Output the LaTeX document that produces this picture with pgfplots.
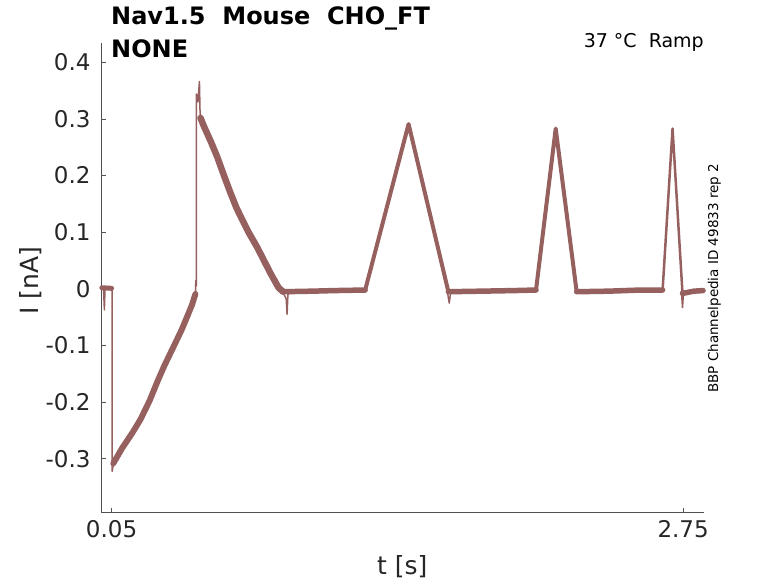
\documentclass[border=0pt]{standalone}
\usepackage{fontspec}
\setmainfont{DejaVu Sans}
\usepackage{pgfplots}
\pgfplotsset{compat=1.18}
\definecolor{trace}{RGB}{150,96,95}
\definecolor{txt}{RGB}{38,38,38}
\definecolor{axgray}{RGB}{80,80,80}
\begin{document}
\begin{tikzpicture}
\path[use as bounding box] (0,0) rectangle (778pt,583pt);
\begin{axis}[
  at={(101pt,70.3pt)}, anchor=south west,
  scale only axis, width=603.3pt, height=469.7pt,
  xmin=0, xmax=2.85, ymin=-0.395, ymax=0.434,
  axis x line*=bottom, axis y line*=left,
  axis line style={draw=axgray, line width=0.8pt},
  tick align=inside, major tick length=5pt,
  tick style={draw=axgray, line width=0.8pt},
  xtick={0.05,2.75}, xticklabels={0.05,2.75},
  ytick={-0.3,-0.2,-0.1,0,0.1,0.2,0.3,0.4},
  yticklabels={-0.3,-0.2,-0.1,0,0.1,0.2,0.3,0.4},
  tick label style={font=\fontsize{23}{27}\selectfont, text=txt},
  yticklabel shift=7pt, xticklabel shift=4.6pt,
  unbounded coords=jump, clip=false,
  every axis plot/.append style={color=trace, line join=round, line cap=round},
]
% noisy bands (thick)
\addplot[line width=5pt] coordinates {(0.004,0.002) (0.050,0.001)};
\addplot[line width=6pt] coordinates {
 (0.058,-0.308) (0.10,-0.281) (0.15,-0.253) (0.187,-0.230) (0.23,-0.197)
 (0.266,-0.164) (0.30,-0.135) (0.344,-0.101) (0.38,-0.073) (0.407,-0.049)
 (0.43,-0.028) (0.446,-0.009)};
\addplot[line width=6.5pt] coordinates {
 (0.470,0.302) (0.485,0.288) (0.52,0.259) (0.549,0.233) (0.58,0.201)
 (0.611,0.170) (0.64,0.143) (0.674,0.117) (0.70,0.098) (0.737,0.074)
 (0.77,0.050) (0.80,0.028) (0.839,0.002) (0.86,-0.005)};
\addplot[line width=5.5pt] coordinates {
 (0.86,-0.005) (1.0,-0.004) (1.1,-0.003) (1.248,-0.002)
 (1.5,nan)
 (1.641,-0.005) (1.8,-0.004) (1.95,-0.003) (2.055,-0.002)
 (2.1,nan)
 (2.247,-0.005) (2.4,-0.004) (2.55,-0.002) (2.653,-0.002)
 (2.7,nan)
 (2.747,-0.008) (2.80,-0.004) (2.844,-0.003)};
\addplot[line width=4pt] coordinates {
 (1.248,-0.002) (1.453,0.291) (1.641,-0.005)
 (1.7,nan)
 (2.055,-0.002) (2.148,0.283) (2.247,-0.005)};
\addplot[line width=2.5pt] coordinates {(2.653,-0.002) (2.700,0.283) (2.747,-0.008)};
% centre trace with steps and spikes (thin)
\addplot[line width=1.5pt] coordinates {
 (0.003,0.003) (0.012,0.000) (0.016,-0.037) (0.019,0.002) (0.040,0.004)
 (0.050,0.002) (0.052,0.001) (0.053,-0.322) (0.058,-0.310)
 (0.10,-0.281) (0.15,-0.253) (0.187,-0.230) (0.23,-0.197)
 (0.266,-0.164) (0.30,-0.135) (0.344,-0.101) (0.38,-0.073) (0.407,-0.049)
 (0.43,-0.028)
 (0.446,-0.008) (0.448,0.015) (0.450,0.005) (0.451,0.344) (0.458,0.330)
 (0.465,0.366) (0.468,0.310) (0.475,0.300)};
\addplot[line width=1.5pt] coordinates {
 (0.86,-0.006) (0.875,-0.018) (0.879,-0.045) (0.883,-0.010) (0.90,-0.004)};
\addplot[line width=1.5pt] coordinates {
 (1.636,-0.004) (1.645,-0.025) (1.652,-0.006)};
\addplot[line width=1.5pt] coordinates {
 (2.742,-0.004) (2.747,-0.033) (2.752,-0.006)};
\end{axis}
\node[anchor=base west, inner sep=0pt, font=\bfseries\fontsize{24}{28}\selectfont] at (111pt,558pt) {Nav1.5\ \ Mouse\ \ CHO\_FT};
\node[anchor=base west, inner sep=0pt, font=\bfseries\fontsize{24}{28}\selectfont] at (111pt,525.7pt) {NONE};
\node[anchor=base east, inner sep=0pt, font=\fontsize{19}{23}\selectfont] at (704pt,535.7pt) {37 °C\ \ Ramp};
\node[rotate=90, anchor=base, inner sep=0pt, font=\fontsize{13.5}{16}\selectfont] at (718pt,304.7pt) {BBP Channelpedia ID 49833 rep 2};
\node[rotate=90, anchor=base, inner sep=0pt, font=\fontsize{25}{30}\selectfont, text=txt] at (38pt,302.5pt) {I [nA]};
\node[anchor=base, inner sep=0pt, font=\fontsize{25}{30}\selectfont, text=txt] at (402.3pt,8.5pt) {t [s]};
\end{tikzpicture}
\end{document}
